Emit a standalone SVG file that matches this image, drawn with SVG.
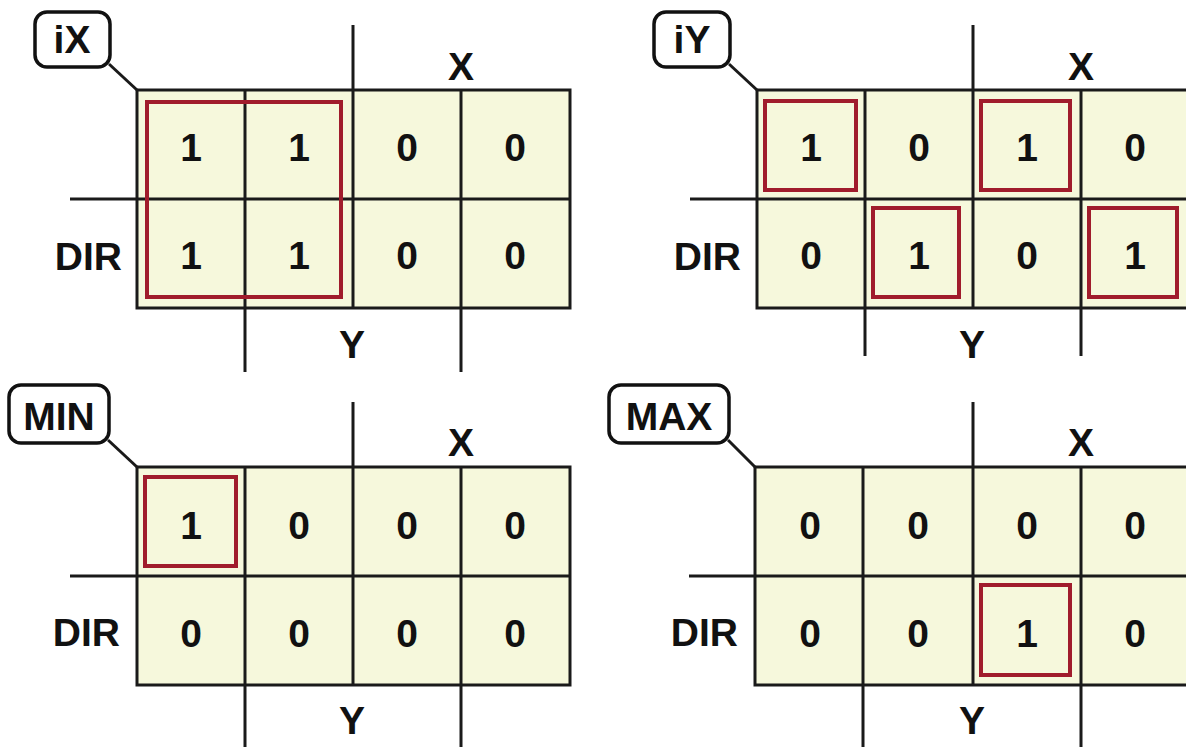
<svg xmlns="http://www.w3.org/2000/svg" width="1186" height="747" viewBox="0 0 1186 747">
<defs>
<style>
.cell{fill:#f6f8dc;stroke:#1a1a1a;stroke-width:3}
.ln{stroke:#1a1a1a;stroke-width:3;fill:none}
.grp{fill:none;stroke:#a01c2c;stroke-width:4}
.tag{fill:#fff;stroke:#111;stroke-width:3.5}
.d{font-family:"Liberation Sans",Arial,sans-serif;font-weight:bold;font-size:39px;text-anchor:middle;fill:#111}
.lb{font-family:"Liberation Sans",Arial,sans-serif;font-weight:bold;font-size:39px;fill:#111}
</style>
</defs>
<rect width="1186" height="747" fill="#fff"/>

<g id="map-iX">
<rect class="cell" x="137" y="90" width="433" height="218"/>
<g class="ln"><line x1="245" y1="90" x2="245" y2="372"/><line x1="353" y1="25" x2="353" y2="308"/><line x1="461" y1="90" x2="461" y2="372"/><line x1="70" y1="199" x2="570" y2="199"/></g>
<rect class="grp" x="147" y="102" width="194" height="195"/>
<g class="d"><text x="191" y="161">1</text><text x="299" y="161">1</text><text x="407" y="161">0</text><text x="515" y="161">0</text><text x="191" y="269">1</text><text x="299" y="269">1</text><text x="407" y="269">0</text><text x="515" y="269">0</text></g>
<text class="lb" x="461" y="80" text-anchor="middle">X</text>
<text class="lb" x="352" y="358" text-anchor="middle">Y</text>
<text class="lb" x="122" y="270" text-anchor="end">DIR</text>
<rect class="tag" x="35" y="12" width="75" height="55" rx="12"/>
<text class="lb" x="72" y="53" text-anchor="middle">iX</text>
<line class="ln" x1="109" y1="64" x2="137" y2="90"/>
</g>

<g id="map-iY">
<rect class="cell" x="757" y="90" width="433" height="218"/>
<g class="ln"><line x1="865" y1="90" x2="865" y2="356"/><line x1="973" y1="25" x2="973" y2="308"/><line x1="1081" y1="90" x2="1081" y2="356"/><line x1="690" y1="199" x2="1190" y2="199"/></g>
<g class="grp"><rect x="765" y="101" width="91" height="89"/><rect x="981" y="101" width="89" height="89"/><rect x="873" y="208" width="86" height="89"/><rect x="1089" y="208" width="88" height="89"/></g>
<g class="d"><text x="811" y="161">1</text><text x="919" y="161">0</text><text x="1027" y="161">1</text><text x="1135" y="161">0</text><text x="811" y="269">0</text><text x="919" y="269">1</text><text x="1027" y="269">0</text><text x="1135" y="269">1</text></g>
<text class="lb" x="1081" y="80" text-anchor="middle">X</text>
<text class="lb" x="972" y="358" text-anchor="middle">Y</text>
<text class="lb" x="741" y="270" text-anchor="end">DIR</text>
<rect class="tag" x="654" y="12" width="76" height="55" rx="12"/>
<text class="lb" x="692" y="53" text-anchor="middle">iY</text>
<line class="ln" x1="729" y1="64" x2="757" y2="90"/>
</g>

<g id="map-MIN">
<rect class="cell" x="137" y="467" width="433" height="218"/>
<g class="ln"><line x1="245" y1="467" x2="245" y2="747"/><line x1="353" y1="402" x2="353" y2="685"/><line x1="461" y1="467" x2="461" y2="747"/><line x1="70" y1="576" x2="570" y2="576"/></g>
<rect class="grp" x="145" y="477" width="91" height="89"/>
<g class="d"><text x="191" y="539">1</text><text x="299" y="539">0</text><text x="407" y="539">0</text><text x="515" y="539">0</text><text x="191" y="647">0</text><text x="299" y="647">0</text><text x="407" y="647">0</text><text x="515" y="647">0</text></g>
<text class="lb" x="461" y="456" text-anchor="middle">X</text>
<text class="lb" x="352" y="734" text-anchor="middle">Y</text>
<text class="lb" x="120" y="646" text-anchor="end">DIR</text>
<rect class="tag" x="9" y="385" width="100" height="58" rx="12"/>
<text class="lb" x="59" y="430" text-anchor="middle">MIN</text>
<line class="ln" x1="108" y1="440" x2="137" y2="467"/>
</g>

<g id="map-MAX">
<rect class="cell" x="755" y="467" width="435" height="218"/>
<g class="ln"><line x1="863" y1="467" x2="863" y2="747"/><line x1="973" y1="402" x2="973" y2="685"/><line x1="1081" y1="467" x2="1081" y2="747"/><line x1="689" y1="576" x2="1190" y2="576"/></g>
<rect class="grp" x="981" y="585" width="89" height="90"/>
<g class="d"><text x="810" y="539">0</text><text x="918" y="539">0</text><text x="1027" y="539">0</text><text x="1135" y="539">0</text><text x="810" y="647">0</text><text x="918" y="647">0</text><text x="1027" y="647">1</text><text x="1135" y="647">0</text></g>
<text class="lb" x="1081" y="456" text-anchor="middle">X</text>
<text class="lb" x="972" y="734" text-anchor="middle">Y</text>
<text class="lb" x="738" y="646" text-anchor="end">DIR</text>
<rect class="tag" x="609" y="385" width="120" height="58" rx="12"/>
<text class="lb" x="669" y="430" text-anchor="middle">MAX</text>
<line class="ln" x1="728" y1="440" x2="755" y2="467"/>
</g>
</svg>
